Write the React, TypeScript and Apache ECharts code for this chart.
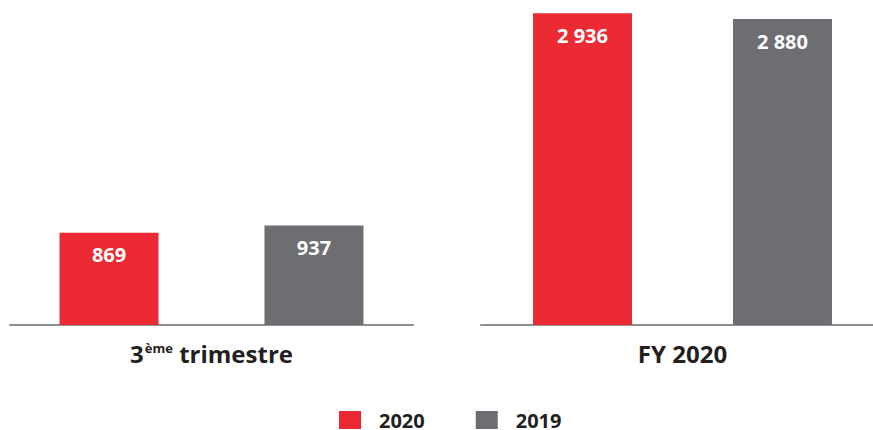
import React, { useEffect, useRef } from "react";
import * as echarts from "echarts";

const categories = ["3ème trimestre", "FY 2020"];
const seriesNames = ["2020", "2019"];
const values2020 = [869, 2936];
const values2019 = [937, 2880];
const seriesColors = ["#EC2A34", "#6D6E71"];

const FONT = "'Open Sans', 'Noto Sans', sans-serif";
const TEXT = "#231F20";

const fmt = (v: number) => String(v).replace(/\B(?=(\d{3})+(?!\d))/g, " ");

export default function App() {
  const ref = useRef<HTMLDivElement>(null);
  useEffect(() => {
    if (!ref.current) return;
    const chart = echarts.init(ref.current, null, { renderer: "svg" });
    const grids = [
      { left: 10, top: 0, width: 403, height: 325 },
      { left: 481, top: 0, width: 403, height: 325 },
    ];
    const gaps = ["107%", "102%"];
    const xAxis = categories.map((c, i) => ({
      type: "category",
      gridIndex: i,
      data: [c],
      axisTick: { show: false },
      axisLine: { lineStyle: { color: "#8C8E90", width: 2 } },
      axisLabel: {
        margin: 16,
        color: TEXT,
        fontFamily: FONT,
        fontWeight: "bold",
        fontSize: 24,
        formatter: (v: string) => v.replace(/^(\d)(ème)/, "$1{sup|$2}"),
        rich: {
          sup: {
            fontSize: 13,
            fontWeight: "bold",
            fontFamily: FONT,
            color: TEXT,
            verticalAlign: "top",
            padding: [0, 0, 10, 1],
          },
        },
      },
    }));
    const yAxis = categories.map((_, i) => ({
      type: "value",
      gridIndex: i,
      min: 0,
      max: 3060,
      show: false,
      splitLine: { show: false },
    }));
    const series: any[] = [];
    categories.forEach((_, i) => {
      [values2020, values2019].forEach((vals, s) => {
        series.push({
          type: "bar",
          name: seriesNames[s],
          xAxisIndex: i,
          yAxisIndex: i,
          data: [vals[i]],
          barWidth: 99,
          barGap: gaps[i],
          itemStyle: { color: seriesColors[s] },
          label: {
            show: true,
            position: "insideTop",
            distance: 12,
            color: "#FFFFFF",
            fontFamily: FONT,
            fontWeight: "bold",
            fontSize: 20,
            formatter: (p: any) => fmt(p.value),
          },
        });
      });
    });
    chart.setOption({
      animation: false,
      color: seriesColors,
      grid: grids,
      xAxis,
      yAxis,
      legend: {
        data: seriesNames,
        left: 339,
        top: 410,
        padding: 0,
        icon: "rect",
        itemWidth: 22,
        itemHeight: 18,
        itemGap: 51,
        textStyle: {
          color: TEXT,
          fontFamily: FONT,
          fontWeight: "bold",
          fontSize: 20,
          lineHeight: 18,
          padding: [0, 0, 0, 13],
        },
      },
      series,
    });
    return () => chart.dispose();
  }, []);
  return (
    <div style={{ position: "absolute", left: 0, top: 0, width: 873, height: 430, overflow: "hidden", background: "#fff" }}>
      <div ref={ref} style={{ width: 900, height: 430 }} />
    </div>
  );
}
